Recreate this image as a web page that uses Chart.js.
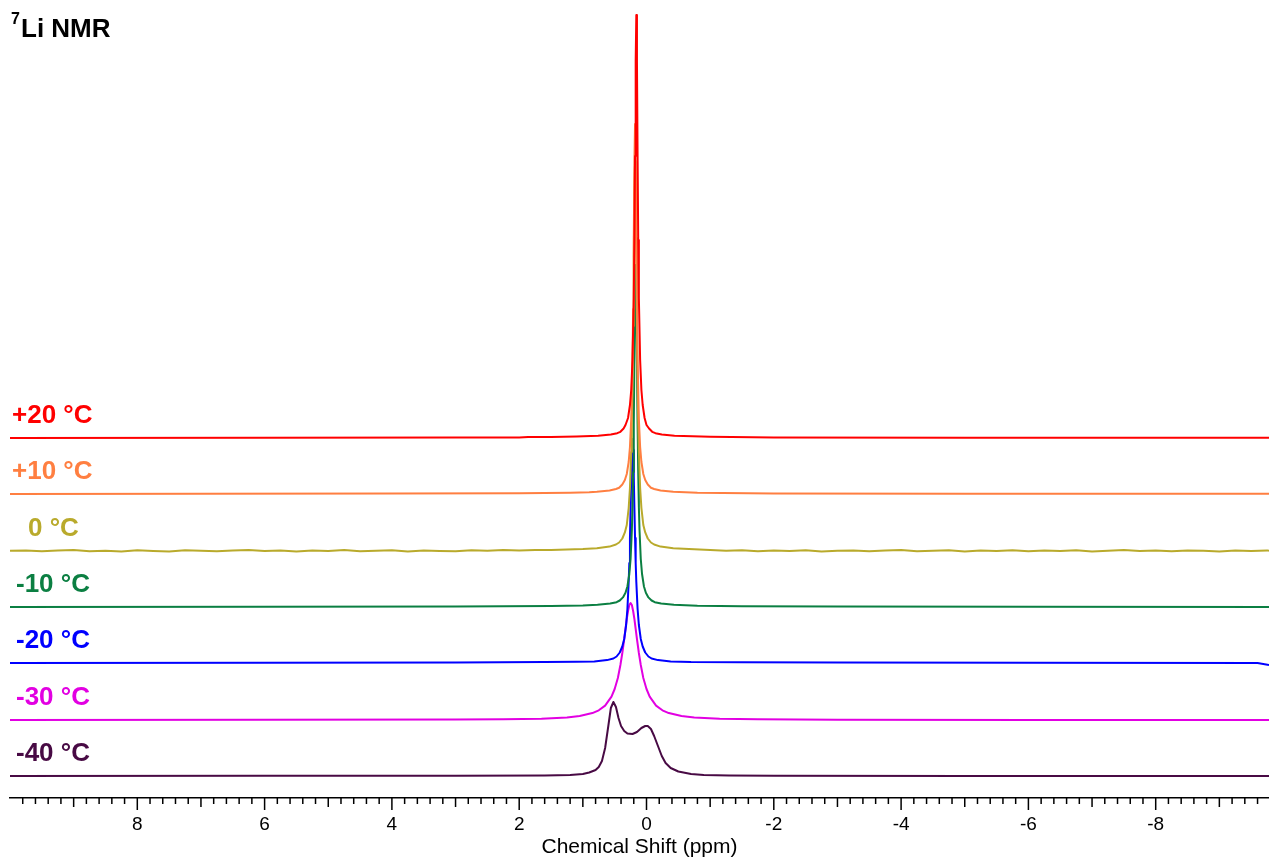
<!DOCTYPE html>
<html>
<head>
<meta charset="utf-8">
<title>7Li NMR</title>
<script src="https://cdn.jsdelivr.net/npm/chart.js@4"></script>
<style>
  html, body { margin: 0; background: #fff; }
  canvas { display: block; }
</style>
</head>
<body>
<canvas id="nmr" width="1269" height="858"></canvas>
<script>
// temperatures, top trace first
const temps = ['+20 °C', '+10 °C', '0 °C', '-10 °C', '-20 °C', '-30 °C', '-40 °C'];

// chemical shift (ppm) / intensity pairs per trace
const shiftP20 = [10, 6, 3, 2, 1.86, 1.5, 1.1, 0.76, 0.56, 0.46, 0.41, 0.36, 0.33, 0.29, 0.26, 0.24, 0.22, 0.2, 0.19, 0.18, 0.17, 0.16, 0.15, 0.14, 0.13, 0.12, 0.1, 0.08, 0.06, 0.03, 0, -0.04, -0.09, -0.14, -0.24, -0.44, -1, -2, -5, -9.78];
const intP20 = [0, 0.2, 0.4, 0.6, 1.0, 1.0, 1.4, 2.2, 3.4, 4.8, 6.2, 9.5, 13, 20, 33, 48, 78, 140, 198, 282, 377, 423, 377, 282, 198, 140, 78, 48, 33, 20, 13, 9.5, 6.2, 4.8, 3.4, 2.2, 1.2, 0.6, 0.3, 0.2];

const shiftP10 = [10, 7, 4, 2, 1.2, 0.9, 0.78, 0.58, 0.48, 0.43, 0.38, 0.34, 0.31, 0.28, 0.26, 0.24, 0.22, 0.21, 0.2, 0.19, 0.18, 0.17, 0.16, 0.15, 0.14, 0.12, 0.1, 0.08, 0.05, 0.02, -0.02, -0.07, -0.12, -0.22, -0.42, -0.8, -2, -5, -9.78];
const intP10 = [0, 0.3, 0.5, 0.8, 1.3, 1.8, 2.3, 3.5, 5, 6.2, 9.5, 14, 20, 32, 47, 75, 134, 185, 256, 333, 370, 333, 256, 185, 134, 75, 47, 32, 20, 14, 9.5, 6.2, 5, 3.5, 2.3, 1.3, 0.6, 0.3, 0.2];

const shift0 = [10, 9.75, 9.5, 9.25, 9, 8.75, 8.5, 8.25, 8, 7.75, 7.5, 7.25, 7, 6.75, 6.5, 6.25, 6, 5.75, 5.5, 5.25, 5, 4.75, 4.5, 4.25, 4, 3.75, 3.5, 3.25, 3, 2.75, 2.5, 2.25, 2, 1.75, 1.5, 1.25, 1,
  0.78, 0.58, 0.48, 0.43, 0.38, 0.34, 0.31, 0.28, 0.26, 0.24, 0.23, 0.22, 0.21, 0.2, 0.19, 0.18, 0.17, 0.16, 0.15, 0.14, 0.13, 0.12, 0.1, 0.08, 0.05, 0.02, -0.02, -0.07, -0.12, -0.22, -0.42, -0.75,
  -1, -1.25, -1.5, -1.75, -2, -2.25, -2.5, -2.75, -3, -3.25, -3.5, -3.75, -4, -4.25, -4.5, -4.75, -5, -5.25, -5.5, -5.75, -6, -6.25, -6.5, -6.75, -7, -7.25, -7.5, -7.75, -8, -8.25, -8.5, -8.75, -9, -9.25, -9.5, -9.75, -9.78];
const int0 = [0.2, 0.6, -0.3, 0.4, 0.9, -0.2, 0.3, -0.5, 0.7, 0.1, -0.4, 0.8, 0.2, -0.3, 0.5, 1.0, -0.1, 0.4, -0.5, 0.6, 0.0, 0.9, -0.3, 0.3, 0.7, -0.4, 0.5, 0.1, -0.2, 0.8, 0.3, 1.0, 0.4, 1.1, 0.9, 1.5, 2.0,
  2.8, 4.4, 6.5, 8.5, 12.5, 18.6, 26, 43, 63, 99, 128, 169, 225, 294, 360, 390, 360, 294, 225, 169, 128, 99, 63, 43, 26, 18.6, 12.5, 8.5, 6.5, 4.4, 2.8, 1.8,
  0.9, 0.2, 0.7, -0.3, 0.5, 0.1, 0.8, -0.4, 0.3, 0.6, -0.2, 0.4, 0.9, -0.3, 0.2, 0.7, -0.5, 0.4, 0.1, 0.8, -0.2, 0.5, 0.0, 0.7, -0.4, 0.3, 0.9, -0.1, 0.4, -0.3, 0.6, 0.2, -0.4, 0.5, 0.1, 0.6, 0.1];

const shiftM10 = [10, 6, 3, 1.5, 1.0, 0.77, 0.57, 0.47, 0.42, 0.37, 0.33, 0.30, 0.27, 0.25, 0.23, 0.22, 0.21, 0.2, 0.19, 0.18, 0.17, 0.16, 0.15, 0.14, 0.13, 0.12, 0.11, 0.09, 0.07, 0.04, 0.01, -0.03, -0.08, -0.13, -0.23, -0.43, -0.8, -1.5, -3, -6, -9.78];
const intM10 = [0, 0.3, 0.5, 0.9, 1.4, 2.2, 3.4, 4.8, 6.5, 9.6, 14.2, 20.5, 33, 48, 77, 100, 135, 183, 246, 311, 342, 311, 246, 183, 135, 100, 77, 48, 33, 20.5, 14.2, 9.6, 6.5, 4.8, 3.4, 2.2, 1.3, 0.8, 0.4, 0.2, 0];

const shiftM20 = [10, 6, 3, 1.6, 1.1, 0.82, 0.62, 0.52, 0.47, 0.42, 0.38, 0.35, 0.32, 0.30, 0.28, 0.27, 0.26, 0.25, 0.24, 0.23, 0.22, 0.21, 0.2, 0.19, 0.18, 0.17, 0.16, 0.14, 0.12, 0.09, 0.06, 0.02, -0.03, -0.08, -0.18, -0.38, -0.7, -1.5, -3, -6, -9.6, -9.78];
const intM20 = [0, 0.3, 0.6, 1.0, 1.3, 1.6, 2.9, 4.5, 6.5, 10.5, 16.5, 24, 38, 54, 81, 100, 125, 155, 187, 213, 224, 213, 187, 155, 125, 100, 81, 54, 38, 24, 16.5, 10.5, 6.5, 4.5, 2.9, 1.6, 1.0, 0.8, 0.4, 0.2, 0, -2];

const shiftM30 = [10, 6, 3, 2.25, 1.65, 1.25, 1.05, 0.85, 0.75, 0.65, 0.55, 0.5, 0.45, 0.41, 0.38, 0.35, 0.33, 0.31, 0.29, 0.27, 0.25, 0.23, 0.21, 0.19, 0.17, 0.15, 0.12, 0.09, 0.05, 0, -0.05, -0.15, -0.25, -0.35, -0.55, -0.75, -1.15, -1.75, -3, -6, -9.78];
const intM30 = [0, 0.3, 0.6, 0.8, 1.3, 2.6, 4.0, 6.9, 9.7, 14.4, 23.4, 31, 42, 55, 67, 81, 91, 101, 109, 115, 117, 115, 109, 101, 91, 81, 67, 55, 42, 31, 23.4, 14.4, 9.7, 6.9, 4.0, 2.6, 1.3, 0.65, 0.3, 0.1, 0];

const shiftM40 = [10, 6, 3, 1.6, 1.2, 1.0, 0.9, 0.8, 0.75, 0.7, 0.65, 0.6, 0.56, 0.52, 0.48, 0.44, 0.4, 0.35, 0.3, 0.22, 0.15, 0.08, 0.02, -0.02, -0.07, -0.12, -0.18, -0.24, -0.3, -0.38, -0.5, -0.7, -0.9, -1.3, -2, -5, -9.78];
const intM40 = [0, 0.3, 0.3, 0.6, 1.0, 2.0, 3.5, 6, 9, 15, 28, 50, 68, 74, 69, 58, 50, 45, 42.5, 42, 44, 48, 50, 50, 47, 40, 30, 20, 13, 8, 4.5, 2, 1, 0.5, 0.2, 0.1, 0];

const shifts = [shiftP20, shiftP10, shift0, shiftM10, shiftM20, shiftM30, shiftM40];
const intensities = [intP20, intP10, int0, intM10, intM20, intM30, intM40];

// vertical stacking offset of each trace (intensity units)
const offsets = [360, 304, 247, 191, 135, 78, 22];

// labelled ticks on the shift axis
const tickLabels = [8, 6, 4, 2, 0, -2, -4, -6, -8];
const xMax = 10, xMin = -9.78, yTop = 798;

const lineColors = ['#ff0000', '#ff7f41', '#b9aa2c', '#0b7f42', '#0000ff', '#e200e2', '#480a44'];
const labelX = [12, 12, 28, 16, 16, 16, 16];
const FONT = "'Liberation Sans', Arial, Helvetica, sans-serif";

const datasets = temps.map((t, i) => ({
  label: t,
  data: shifts[i].map((s, j) => ({ x: s, y: intensities[i][j] + offsets[i] })),
  borderColor: lineColors[i],
  borderWidth: 2,
  pointRadius: 0,
  tension: 0,
  borderJoinStyle: 'round',
  fill: false
}));

const decorations = {
  id: 'decorations',
  afterDraw(chart) {
    const { ctx, chartArea, scales: { x, y } } = chart;
    ctx.save();

    // ticks every 0.2 ppm, longer at odd and even integers
    ctx.strokeStyle = '#000';
    ctx.lineWidth = 1.5;
    for (let k = 49; k >= -48; k--) {
      const px = x.getPixelForValue(k / 5);
      const len = k % 10 === 0 ? 12 : (k % 5 === 0 ? 9 : 6);
      ctx.beginPath();
      ctx.moveTo(px, chartArea.bottom);
      ctx.lineTo(px, chartArea.bottom + len);
      ctx.stroke();
    }

    // temperature labels above each baseline
    ctx.font = 'bold 26px ' + FONT;
    ctx.textBaseline = 'middle';
    ctx.textAlign = 'left';
    temps.forEach((t, i) => {
      ctx.fillStyle = lineColors[i];
      ctx.fillText(t, labelX[i], y.getPixelForValue(offsets[i]) - 22);
    });

    // heading with superscript mass number
    ctx.fillStyle = '#000';
    ctx.textBaseline = 'alphabetic';
    ctx.font = 'bold 16px ' + FONT;
    ctx.fillText('7', 11, 24);
    ctx.font = 'bold 26px ' + FONT;
    ctx.fillText('Li NMR', 21, 37);

    ctx.restore();
  }
};

new Chart(document.getElementById('nmr'), {
  type: 'line',
  data: { datasets },
  plugins: [decorations],
  options: {
    responsive: false,
    animation: false,
    layout: { padding: { left: 10, right: 0, top: 0, bottom: 0 } },
    plugins: { legend: { display: false }, tooltip: { enabled: false } },
    scales: {
      x: {
        type: 'linear',
        reverse: true,
        min: xMin,
        max: xMax,
        afterBuildTicks: s => { s.ticks = tickLabels.map(v => ({ value: v })); },
        afterFit: s => { s.height = 60; },
        grid: { drawOnChartArea: false, drawTicks: true, tickLength: 12, tickColor: 'rgba(0,0,0,0)' },
        border: { display: true, color: '#000', width: 1.5 },
        ticks: { color: '#000', font: { family: FONT, size: 19 }, padding: 3, maxRotation: 0, autoSkip: false },
        title: {
          display: true,
          text: 'Chemical Shift (ppm)',
          color: '#000',
          font: { family: FONT, size: 21, lineHeight: 1 },
          padding: { top: 0, bottom: 0 }
        }
      },
      y: { display: false, min: 0, max: yTop }
    }
  }
});
</script>
</body>
</html>
